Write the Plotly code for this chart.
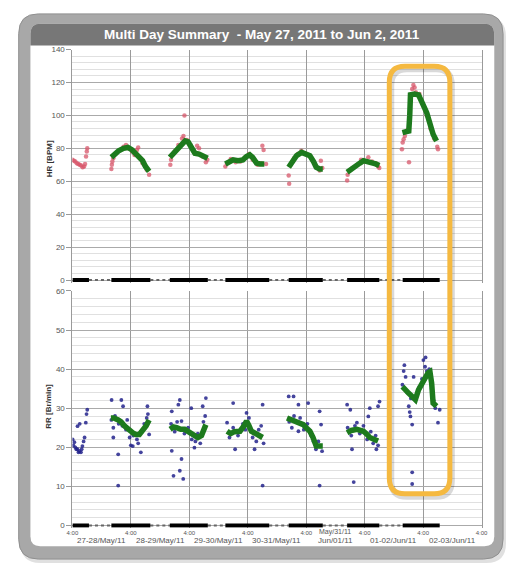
import plotly.graph_objects as go

W, H = 512, 567

# ---------------- data (hours since 4:00 on May 27) ----------------
day_ticks = [0, 24, 48, 72, 96, 120, 144, 168]
tick_text = ["4:00"] * 8
day_labels = ["27-28/May/11", "28-29/May/11", "29-30/May/11", "30-31/May/11",
              "May/31/11 Jun/01/11", "01-02/Jun/11", "02-03/Jun/11"]

bar_start = [0, 16, 40, 62.8, 88.8, 112.8, 135.6]
bar_end = [6.8, 32, 55.6, 80.8, 102.8, 126, 150.8]

# HR raw points (pink)
hr_raw_t = [0, 0.6, 1.2, 1.8, 2.4, 3, 3.6, 4.2, 4.8, 5.2, 5.6, 5.9, 6.1,
            16, 16.2, 16.4, 16.8, 18, 19.5, 21, 22, 23, 24.5, 25.5, 26.5, 27, 27.8, 28.8, 29.5, 30.5, 31.5,
            40.2, 40.5, 42, 43.5, 45, 45.6, 46, 47, 48.5, 50, 51.2, 52, 53.5, 54.8, 55.4,
            62.8, 63.5, 65, 67, 69, 71, 72.5, 74, 76, 77.5, 78, 78.5, 79.5,
            88.8, 89, 89.5, 91, 92.5, 94, 95.5, 97, 98.5, 100, 101.5, 102, 102.6,
            112.8, 113, 115, 117, 118.5, 120, 121.5, 123, 124.5, 125.5, 126,
            135.3, 135.6, 136, 136.5, 137.5, 138.2, 139.5, 140, 140.5, 141, 142.5, 144, 145.5, 147, 148.5, 149.8, 150.1]
hr_raw_v = [73, 72.5, 72, 71, 70.5, 70, 69.5, 68.5, 69, 70.5, 75, 78, 80,
            67.5, 70, 72, 74, 77, 79, 81, 82, 80, 78, 76, 79, 80.5, 74, 71, 70, 67, 64,
            70, 73, 78, 82, 86, 87.5, 100, 85, 82, 78, 81.5, 80, 75, 71.5, 73,
            69, 71, 73.5, 71.5, 72, 74.5, 76.5, 73, 70, 71, 81.5, 79, 70.5,
            63.5, 58.5, 70, 74, 76.5, 78.5, 77, 76, 73, 69, 66.5, 72.5, 68,
            60.5, 64, 68, 70, 73, 72, 74.5, 72, 71, 69, 68,
            79.5, 83.5, 85.5, 87.5, 91, 71.5, 116, 118.5, 117, 114, 113, 106, 100, 92, 86, 81, 79.5]

# HR smoothed (green), one list per day
hr_fit_t = [[16.0, 17.5, 19, 21, 22.8, 24.5, 26, 27.5, 28.8, 30, 31.5],
            [40, 41.5, 43, 45, 46.3, 47.5, 49, 50.3, 52, 54, 55.5],
            [62.8, 64.5, 66, 68, 70, 71.5, 72.8, 74, 75.6, 77, 78.8],
            [88.8, 90.5, 92, 94.1, 96, 97.5, 99, 100.1, 101.5, 102.8],
            [112.8, 114.5, 116.5, 118, 119.5, 121, 122.8, 124.5, 126],
            [135.5, 137, 138.1, 138.5, 138.8, 140.5, 142.1, 143.5, 145.5, 147, 148.1, 149.5]]
hr_fit_v = [[74.5, 77, 78.5, 80, 80.5, 79, 77, 75, 72.5, 69, 66],
            [74.5, 77, 80, 83, 84.5, 84, 81, 77, 76.5, 75.5, 74],
            [70.5, 72, 73, 72.5, 73, 75, 76, 74.5, 71, 70.5, 70.5],
            [68.5, 72, 75.5, 77.5, 76.5, 75.5, 72, 68.5, 67.5, 67.5],
            [65.5, 67, 69, 71, 72.5, 72, 71.5, 70.5, 69.5],
            [89.5, 90.5, 90.5, 100, 112.5, 113, 112.5, 108, 101.5, 94, 88.5, 84.5]]

# RR raw points (blue)
rr_raw_t = [0.1, 0.4, 0.8, 1.2, 1.6, 2.1, 2.5, 2.9, 3.5, 3.8, 4.1, 4.6, 5, 2.1, 3, 5.5, 5.8, 6.1,
            16.1, 20.1, 18.8, 18.8, 16.8, 24.8, 28.1, 30.8, 31.5, 20.8, 16.8, 16, 17.5, 19, 20.5, 22, 23.5, 25, 26.5, 28, 29.5, 30.5, 31, 22.5, 27, 24,
            40.8, 44.1, 43.5, 40.8, 44.8, 44.1, 41.5, 45.5, 50.1, 54.8, 53.5, 48.8, 44.8, 40.5, 42, 43, 46, 47.5, 49, 50.5, 51.5, 52.5, 53.8, 54.5,
            63.5, 66, 66.8, 71.5, 74.8, 78.1, 78.1, 64.5, 66, 68, 70, 71, 72.5, 74, 75.5, 76.5, 77.5, 78.5,
            88.8, 90.8, 92.8, 96.8, 101.5, 90.1, 92.8, 101.5, 102.1, 89, 91, 93.5, 95, 96.5, 98, 99, 100, 101, 102.5,
            112.8, 114.1, 122.1, 126.1, 125.5, 114.8, 115.5, 124.8, 116.8, 121.5, 113, 114.5, 116, 118, 119.5, 121, 122.5, 123.5, 124.5, 125.5,
            136.3, 136.8, 140.1, 144.1, 144.8, 138.1, 138.8, 139.5, 150.8, 150.1, 139.5, 139.5, 135.5, 137.5, 139, 141, 142.5, 143.5, 145.5, 146.5, 147.5, 148.3, 149, 136, 145, 138.5]
rr_raw_v = [22, 20.5, 21.3, 20, 19.5, 19.5, 18.7, 19, 18.7, 19.5, 20.3, 21.5, 22.5, 25.4, 26, 26.3, 28.5, 29.6,
            32.1, 32.1, 18.2, 10.2, 22.5, 20.3, 18.7, 30.5, 23.3, 30.5, 25, 27, 28, 26, 25.5, 24.5, 22.5, 23, 22, 24, 26, 27.5, 28.5, 27, 21, 20.5,
            29.2, 32.1, 30.9, 19.1, 17, 14, 12.7, 11.9, 19.9, 32.6, 30.5, 30, 26.7, 26, 24, 26.5, 23.5, 25, 22, 21.5, 23.5, 21, 26.5, 28,
            26.3, 31.3, 19.5, 28.8, 19.5, 30.9, 10.2, 22.5, 25, 23, 26, 24.5, 27.5, 22.5, 21.5, 24.5, 25.5, 21,
            33, 33, 30.9, 31.3, 29.2, 25, 24.1, 10.2, 25.8, 26.5, 28, 27.5, 24.5, 26, 23, 21.5, 19.5, 21.5, 19,
            30.9, 29.6, 30, 31.7, 30.5, 19.5, 11.1, 19.5, 26.3, 27.9, 25, 23, 25.5, 23.5, 25.5, 22, 24, 21, 23, 20.5,
            41, 38, 38, 42.3, 40.6, 30.5, 27.9, 25.8, 29.6, 26.3, 13.6, 10.6, 36, 34, 32.5, 33, 35.5, 37.5, 39.5, 40, 35, 32, 30, 39.5, 43, 29]

# RR smoothed (green), one list per day
rr_fit_t = [[15.8, 17, 18.8, 20, 21.5, 23, 24.8, 26, 27.5, 29, 30.3, 31.5],
            [40.1, 41.5, 42.8, 44.5, 46.1, 48, 49.5, 51.5, 53, 54, 54.8],
            [63.5, 65, 66.5, 68.8, 70.5, 71.5, 72.5, 73.5, 75, 76.1, 77.2, 78.1],
            [88.1, 90, 92.1, 93.5, 94.8, 96, 97.5, 98.8, 100.1, 101.5, 102.8],
            [112.8, 114.5, 116.8, 118, 119.5, 121, 122.1, 124, 125.5],
            [135.5, 136.8, 138.1, 139.5, 140.8, 142.1, 143.5, 144.8, 146, 146.8, 147.5, 148.1, 149.5]]
rr_fit_v = [[27.5, 27.5, 27, 26.5, 25.4, 24.5, 23.7, 23.3, 23.3, 24.5, 25.5, 27],
            [24.6, 25.2, 25, 24.6, 24.6, 23.8, 23.3, 22.5, 23, 24.5, 25.8],
            [24.1, 23.5, 24, 24.1, 25.5, 26.7, 25.5, 24.1, 23.6, 23.3, 22.8, 22.5],
            [27.5, 27, 26.7, 26, 25.8, 25, 24.1, 22.5, 20.3, 20.3, 20.3],
            [23.7, 24.3, 24.6, 24.4, 24.1, 23.3, 22.5, 22, 21.6],
            [35.5, 34.5, 33.8, 33, 32.2, 34.7, 36.5, 38, 39, 39.3, 36.4, 31.3, 30.5]]


def join(groups):
    out = []
    for g in groups:
        out += list(g) + [None]
    return out


# ---------------- helpers for pixel -> paper ----------------
def X(px):
    return px / W


def Y(py):
    return 1 - py / H


def rr_path(x0, y0, x1, y1, r_tl, r_tr, r_br, r_bl):
    return (f"M {X(x0 + r_tl)},{Y(y0)} L {X(x1 - r_tr)},{Y(y0)} "
            f"Q {X(x1)},{Y(y0)} {X(x1)},{Y(y0 + r_tr)} L {X(x1)},{Y(y1 - r_br)} "
            f"Q {X(x1)},{Y(y1)} {X(x1 - r_br)},{Y(y1)} L {X(x0 + r_bl)},{Y(y1)} "
            f"Q {X(x0)},{Y(y1)} {X(x0)},{Y(y1 - r_bl)} L {X(x0)},{Y(y0 + r_tl)} "
            f"Q {X(x0)},{Y(y0)} {X(x0 + r_tl)},{Y(y0)} Z")


fig = go.Figure()

# black activity bars and gaps
bar_x, gap_x = [], []
for i, (s, e) in enumerate(zip(bar_start, bar_end)):
    bar_x += [s, e, None]
    if i + 1 < len(bar_start):
        gap_x += [e, bar_start[i + 1], None]
for xa, ya in (("x", "y"), ("x2", "y2")):
    fig.add_trace(go.Scatter(x=gap_x, y=[0 if v is not None else None for v in gap_x],
                             mode="lines", line=dict(color="#666", width=2, dash="dot"),
                             xaxis=xa, yaxis=ya, hoverinfo="skip"))
    fig.add_trace(go.Scatter(x=bar_x, y=[0 if v is not None else None for v in bar_x],
                             mode="lines", line=dict(color="black", width=4),
                             xaxis=xa, yaxis=ya, hoverinfo="skip"))

# HR
fig.add_trace(go.Scatter(x=hr_raw_t, y=hr_raw_v, mode="markers",
                         marker=dict(color="rgba(215,85,105,0.75)", size=4.5),
                         xaxis="x", yaxis="y"))
fig.add_trace(go.Scatter(x=join(hr_fit_t), y=join(hr_fit_v), mode="lines",
                         line=dict(color="#1d7a1d", width=5.5), connectgaps=False,
                         xaxis="x", yaxis="y"))
# RR
fig.add_trace(go.Scatter(x=rr_raw_t, y=rr_raw_v, mode="markers",
                         marker=dict(color="rgba(35,35,140,0.85)", size=3.8),
                         xaxis="x2", yaxis="y2"))
fig.add_trace(go.Scatter(x=join(rr_fit_t), y=join(rr_fit_v), mode="lines",
                         line=dict(color="#1d7a1d", width=5.5), connectgaps=False,
                         xaxis="x2", yaxis="y2"))

xdom = [X(68), X(487)]
common_x = dict(range=[0, 168], domain=xdom, tickvals=day_ticks, showgrid=True,
                gridcolor="#9a9a9a", gridwidth=1, zeroline=False, showline=False)
common_y = dict(showgrid=True, gridcolor="#aaaaaa", zeroline=False, ticks="outside", ticklen=5,
                tickcolor="#999", tickfont=dict(size=8, color="#555"),
                showline=True, mirror=True, linecolor="#9a9a9a", linewidth=1)
fig.update_layout(
    width=W, height=H, margin=dict(l=0, r=0, t=0, b=0),
    paper_bgcolor="white", plot_bgcolor="rgba(0,0,0,0)", showlegend=False,
    font=dict(family="Liberation Sans, Arial, sans-serif", color="#444"),
    xaxis=dict(**common_x, anchor="y", showticklabels=False, ticks=""),
    yaxis=dict(**common_y, domain=[Y(281.5), Y(46)], range=[-1.5, 140],
               tickvals=[0, 20, 40, 60, 80, 100, 120, 140], anchor="x",
               minor=dict(dtick=4, showgrid=True, gridcolor="#e0e0e0", ticks="")),
    xaxis2=dict(**common_x, anchor="y2", ticktext=tick_text, ticks="",
                tickfont=dict(size=6, color="#555")),
    yaxis2=dict(**common_y, domain=[Y(529.4), Y(290)], range=[-0.6, 60],
                tickvals=[0, 10, 20, 30, 40, 50, 60], anchor="x2",
                minor=dict(dtick=2, showgrid=True, gridcolor="#e0e0e0", ticks="")),
)

P = dict(xref="paper", yref="paper")
shapes = [
    # outer frame shadow
    dict(type="path", path=rr_path(15, 13, 512, 565, 20, 20, 20, 20), **P,
         fillcolor="rgba(0,0,0,0.12)", line=dict(width=0), layer="below"),
    # outer frame
    dict(type="path", path=rr_path(13, 10, 509, 561, 20, 20, 20, 20), **P,
         fillcolor="#a8a8a8", line=dict(color="#8f8f8f", width=1), layer="below"),
    # white inner panel
    dict(type="path", path=rr_path(25, 20, 500, 548, 10, 10, 10, 10), **P,
         fillcolor="white", line=dict(width=0), layer="below"),
    # title bar
    dict(type="path", path=rr_path(25, 20, 500, 42, 10, 10, 0, 0), **P,
         fillcolor="#777777", line=dict(width=0), layer="below"),
    # highlight shadow
    dict(type="path", path=rr_path(394.5, 66, 456.5, 498, 16, 16, 16, 16), **P,
         fillcolor="rgba(0,0,0,0)", line=dict(color="rgba(0,0,0,0.15)", width=6), layer="above"),
    # highlight box
    dict(type="path", path=rr_path(392.5, 63, 454.5, 495, 16, 16, 16, 16), **P,
         fillcolor="rgba(0,0,0,0)", line=dict(color="#f5b940", width=5), layer="above"),
]
fig.update_layout(shapes=shapes)

C = dict(showarrow=False, xanchor="center", yanchor="middle")
ann = [
    dict(text="<b>Multi Day Summary  - May 27, 2011 to Jun 2, 2011</b>", x=X(262), y=Y(31),
         **P, **C, font=dict(size=13.5, color="white")),
    dict(text="<b>HR [BPM]</b>", x=X(44), y=Y(156), **P, **C,
         textangle=-90, font=dict(size=8, color="#333")),
    dict(text="<b>RR [Br/min]</b>", x=X(44), y=Y(406), **P, **C,
         textangle=-90, font=dict(size=8, color="#333")),
]
for i, lab in enumerate(day_labels):
    xc = (day_ticks[i] + day_ticks[i + 1]) / 2
    if " " in lab:
        a, b = lab.split(" ")
        ann.append(dict(text=a, x=xc, y=Y(534), xref="x2", yref="paper", **C,
                        font=dict(size=7, color="#555")))
        ann.append(dict(text=b, x=xc, y=Y(542.5), xref="x2", yref="paper", **C,
                        font=dict(size=8, color="#555")))
    else:
        ann.append(dict(text=lab, x=xc, y=Y(542.5), xref="x2", yref="paper", **C,
                        font=dict(size=8, color="#555")))
fig.update_layout(annotations=ann)

fig.write_html("out.html", config={"displayModeBar": False},
               post_script="document.body.style.margin='0';document.body.style.overflow='hidden';")
